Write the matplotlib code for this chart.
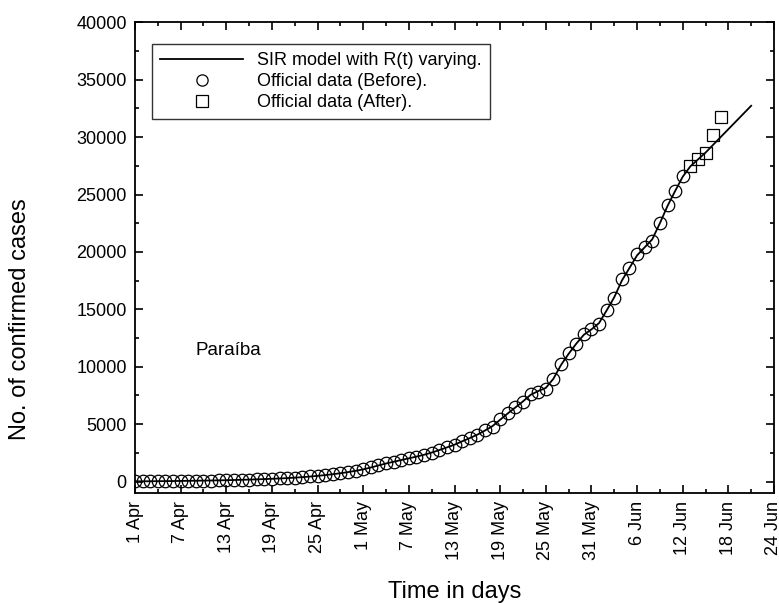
import matplotlib
matplotlib.use("Agg")
import matplotlib.pyplot as plt
from matplotlib.ticker import MultipleLocator

plt.rcParams["font.family"] = ["Liberation Sans", "DejaVu Sans"]

# days since 1 Apr
tick_labels = ["1 Apr", "7 Apr", "13 Apr", "19 Apr", "25 Apr", "1 May", "7 May",
               "13 May", "19 May", "25 May", "31 May", "6 Jun", "12 Jun", "18 Jun", "24 Jun"]

# official data before (days 0..72)
before_cases = [17, 20, 25, 30, 36, 42, 50, 58, 67, 77,
                88, 100, 114, 130, 148, 167, 188, 212, 238, 266,
                300, 340, 385, 440, 500, 565, 640, 730, 830, 940,
                1070, 1240, 1420, 1590, 1730, 1880, 2030, 2170, 2320, 2520,
                2740, 2980, 3190, 3550, 3780, 4060, 4460, 4780, 5440, 5960,
                6450, 6960, 7630, 7840, 8040, 8950, 10240, 11160, 12020, 12850,
                13250, 13730, 14920, 16000, 17640, 18620, 19790, 20400, 20970, 22490,
                24060, 25320, 26610]

# official data after (days 73..77)
after_cases = [27480, 28070, 28650, 30170, 31760]

# SIR model with varying R(t) (days 0..81)
model_cases = [17, 20, 24, 29, 35, 42, 50, 59, 68, 78,
               89, 101, 115, 131, 148, 167, 188, 211, 237, 265,
               297, 335, 380, 432, 492, 560, 636, 722, 820, 930,
               1060, 1220, 1400, 1570, 1720, 1870, 2020, 2170, 2330, 2520,
               2740, 2970, 3210, 3500, 3780, 4080, 4440, 4830, 5380, 5930,
               6450, 6980, 7550, 7880, 8150, 8950, 10150, 11120, 12000, 12780,
               13250, 13800, 14900, 16050, 17500, 18600, 19700, 20400, 21100, 22500,
               24000, 25300, 26550, 27450, 28050, 28650, 29330, 30010, 30690, 31370,
               32050, 32730]

days_before = list(range(len(before_cases)))
days_after = list(range(len(before_cases), len(before_cases) + len(after_cases)))
days_model = list(range(len(model_cases)))

W, H = 779, 603
fig = plt.figure(figsize=(W / 100, H / 100), dpi=100)
ax = fig.add_axes([135 / W, 1 - 493 / H, (774 - 135) / W, (493 - 22.3) / H])

ax.plot(days_model, model_cases, color="black", lw=1.3, label="SIR model with R(t) varying.", zorder=3)
ax.plot(days_before, before_cases, "o", ms=9, mfc="none", mec="black", mew=0.9,
        label="Official data (Before).")
ax.plot(days_after, after_cases, "s", ms=9, mfc="none", mec="black", mew=0.9,
        label="Official data (After).")

ax.set_xlim(0, 84)
ax.set_ylim(-1000, 40000)
ax.set_xticks(range(0, 85, 6))
ax.set_xticklabels(tick_labels, rotation=90, fontsize=13)
ax.xaxis.set_minor_locator(MultipleLocator(3))
ax.set_yticks(range(0, 40001, 5000))
ax.yaxis.set_minor_locator(MultipleLocator(2500))
ax.tick_params(axis="y", labelsize=13)
ax.tick_params(which="major", direction="in", length=6, width=1.2, top=True, right=True, pad=6)
ax.tick_params(which="minor", direction="in", length=3, width=1.2, top=True, right=True)
for s in ax.spines.values():
    s.set_linewidth(1.3)

ax.set_xlabel("Time in days", fontsize=17, labelpad=15)
ax.set_ylabel("No. of confirmed cases", fontsize=17)
ax.yaxis.set_label_coords(-0.163, 0.37)

ax.text(8.0, 11000, "Paraíba", fontsize=13.5)

leg = ax.legend(loc="upper left", bbox_to_anchor=(0.027, 0.954), borderaxespad=0,
                fontsize=13, handlelength=4.6, handletextpad=0.75, labelspacing=0.22,
                markerscale=0.9, fancybox=False, framealpha=1, borderpad=0.45)
leg.get_frame().set_edgecolor("#333333")
leg.get_frame().set_linewidth(1.0)

fig.savefig("out.png", dpi=100)
